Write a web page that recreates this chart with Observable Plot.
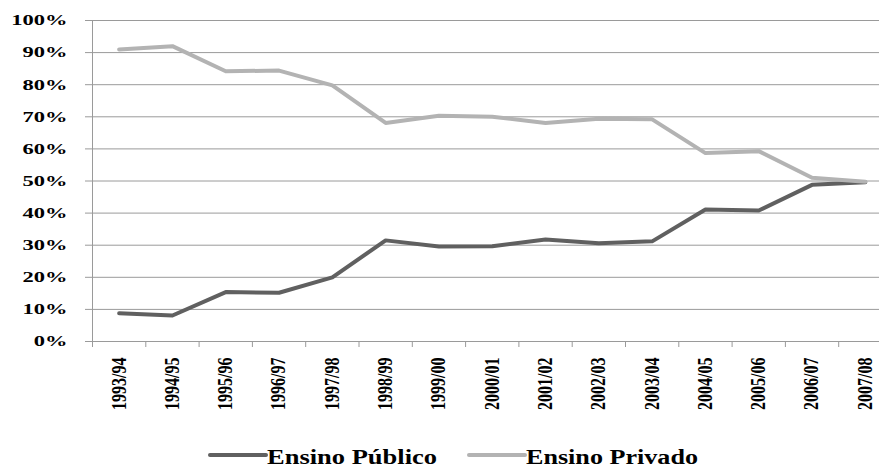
<!DOCTYPE html>
<html><head><meta charset="utf-8">
<script src="https://cdn.jsdelivr.net/npm/d3@7"></script>
<script src="https://cdn.jsdelivr.net/npm/@observablehq/plot@0.6"></script>
<style>
body{margin:0;background:#fff;}
#chart{width:879px;height:468px;position:relative;overflow:hidden;background:#fff;}
#chart svg{display:block;}
</style></head>
<body><div id="chart"></div>
<script>
const categories = ["1993/94","1994/95","1995/96","1996/97","1997/98","1998/99","1999/00","2000/01","2001/02","2002/03","2003/04","2004/05","2005/06","2006/07","2007/08"];
const publico = [8.8, 8.1, 15.4, 15.2, 20.0, 31.5, 29.6, 29.7, 31.8, 30.6, 31.2, 41.1, 40.8, 48.8, 49.6];
const privado = [91.0, 92.0, 84.2, 84.4, 79.8, 68.1, 70.3, 70.0, 68.1, 69.4, 69.2, 58.7, 59.3, 51.0, 49.8];
const yTicks = [0, 10, 20, 30, 40, 50, 60, 70, 80, 90, 100];
const seriesNames = ["Ensino Público", "Ensino Privado"];
const seriesColors = ["#606060", "#b3b3b3"];

const data = [
  ...categories.map((c, i) => ({i, cat: c, value: publico[i], serie: seriesNames[0]})),
  ...categories.map((c, i) => ({i, cat: c, value: privado[i], serie: seriesNames[1]}))
];
const idx = categories.map((c, i) => i);
const boundaries = categories.map((c, i) => i - 0.5);

const font = "'Liberation Serif', 'Times New Roman', serif";

const chart = Plot.plot({
  width: 879,
  height: 420,
  marginLeft: 92,
  marginRight: 0,
  marginTop: 20,
  marginBottom: 79,
  style: {fontFamily: font, fontWeight: "bold", color: "#000", background: "#fff"},
  x: {type: "linear", domain: [-0.5, 14.5], range: [92, 891.5], label: null},
  y: {domain: [0, 100], label: null},
  color: {domain: seriesNames, range: seriesColors},
  marks: [
    Plot.ruleY(yTicks, {stroke: "#9a9a9a", strokeWidth: 1}),
    Plot.ruleX([-0.5], {y1: 0, y2: 100, stroke: "#9a9a9a", strokeWidth: 1}),
    Plot.axisY(yTicks, {label: null, tickFormat: d => d + "%", tickSize: 7, tickPadding: 18, fontSize: 15, stroke: "#9a9a9a", fill: "#000"}),
    Plot.axisX(boundaries, {label: null, tickFormat: () => "", tickSize: 6, stroke: "#9a9a9a"}),
    Plot.axisX(idx, {label: null, tickFormat: i => categories[i], tickSize: 0, tickPadding: 16, tickRotate: -90, fontSize: 16, fill: "#000"}),
    Plot.line(data, {x: "i", y: "value", stroke: "serie", z: "serie", strokeWidth: 4, strokeLinejoin: "round", strokeLinecap: "round"})
  ]
});

const root = document.getElementById("chart");
root.appendChild(chart);

// widen glyphs like the reference (stretched rendering)
d3.select(chart).selectAll("g[aria-label='y-axis tick label'] text").each(function() {
  const t = this.getAttribute("transform") || "";
  this.setAttribute("transform", t + " scale(1.5,1)");
});
d3.select(chart).selectAll("g[aria-label='x-axis tick label'] text").each(function() {
  const t = this.getAttribute("transform") || "";
  this.setAttribute("transform", t + " scale(1,1.25)");
});

// legend below the chart
const legend = d3.create("svg").attr("width", 879).attr("height", 48)
  .style("font-family", font).style("font-weight", "bold");
const legendX = [210, 469];
const legendTextW = [170, 172];
seriesNames.forEach((name, k) => {
  const g = legend.append("g").attr("transform", `translate(${legendX[k]},0)`);
  g.append("line").attr("x1", 0).attr("x2", 56).attr("y1", 35).attr("y2", 35)
    .attr("stroke", seriesColors[k]).attr("stroke-width", 4).attr("stroke-linecap", "round");
  g.append("text").attr("x", 57).attr("y", 44).attr("font-size", 20)
    .attr("textLength", legendTextW[k]).attr("lengthAdjust", "spacingAndGlyphs")
    .text(name);
});
root.appendChild(legend.node());
</script>
</body></html>
